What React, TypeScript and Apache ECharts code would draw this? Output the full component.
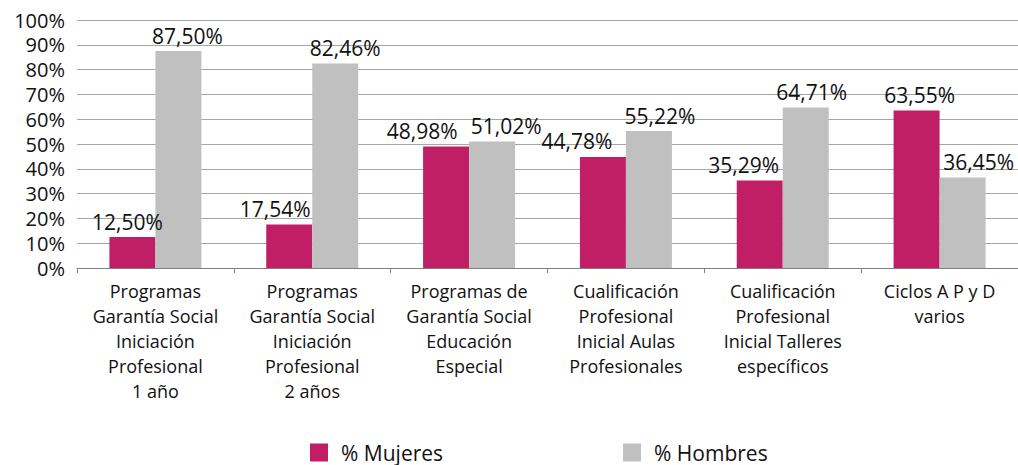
import React, { useEffect, useRef } from "react";
import * as echarts from "echarts";

const categories = [
  "Programas\nGarantía Social\nIniciación\nProfesional\n1 año",
  "Programas\nGarantía Social\nIniciación\nProfesional\n2 años",
  "Programas de\nGarantía Social\nEducación\nEspecial",
  "Cualificación\nProfesional\nInicial Aulas\nProfesionales",
  "Cualificación\nProfesional\nInicial Talleres\nespecíficos",
  "Ciclos A P y D\nvarios",
];
const mujeres = [12.5, 17.54, 48.98, 44.78, 35.29, 63.55];
const hombres = [87.5, 82.46, 51.02, 55.22, 64.71, 36.45];
const seriesNames = ["% Mujeres", "% Hombres"];

// horizontal shift of value labels, as placed in the reference
const mujeresLabelShift = [-5, -14, -24, -26, -16, 3];
const hombresLabelShift = [9, 10, 14, 11, 6, 16];

const FONT = "Open Sans";
const fmt = (v: number) => v.toFixed(2).replace(".", ",") + "%";

export default function App() {
  const ref = useRef<HTMLDivElement>(null);
  useEffect(() => {
    document.body.style.margin = "0";
    const chart = echarts.init(ref.current!, null, { renderer: "svg" });
    const labelStyle = {
      show: true,
      position: "top" as const,
      distance: 5,
      color: "#111",
      fontFamily: FONT,
      fontSize: 21,
      formatter: (p: any) => fmt(p.value),
    };
    const build = (vals: number[], shifts: number[]) =>
      vals.map((v, i) => ({ value: v, label: { offset: [shifts[i], 0] } }));
    chart.setOption({
      animation: false,
      backgroundColor: "#fff",
      textStyle: { fontFamily: FONT },
      grid: { left: 77, right: -1, top: 20, bottom: 197, containLabel: false },
      legend: {
        top: 437,
        left: 305,
        itemWidth: 18,
        itemHeight: 18,
        itemGap: 180,
        icon: "rect",
        textStyle: { fontFamily: FONT, fontSize: 21, color: "#111", padding: [0, 0, 0, 8] },
        data: seriesNames,
      },
      xAxis: {
        type: "category",
        data: categories,
        axisLine: { lineStyle: { color: "#808080" } },
        axisTick: { show: true, lineStyle: { color: "#808080" } },
        axisLabel: {
          interval: 0,
          fontFamily: FONT,
          fontSize: 18,
          color: "#111",
          lineHeight: 25,
          margin: 10,
        },
      },
      yAxis: {
        type: "value",
        min: 0,
        max: 100,
        interval: 10,
        axisLine: { show: false },
        axisTick: { show: false },
        splitLine: { lineStyle: { color: "#a6a6a6", width: 1 } },
        axisLabel: {
          formatter: (v: number) => v + "%",
          fontFamily: FONT,
          fontSize: 20,
          color: "#111",
          margin: 12,
        },
      },
      series: [
        {
          name: seriesNames[0],
          type: "bar",
          data: build(mujeres, mujeresLabelShift),
          barWidth: 46,
          barGap: "0%",
          itemStyle: { color: "#c01f66" },
          label: labelStyle,
        },
        {
          name: seriesNames[1],
          type: "bar",
          data: build(hombres, hombresLabelShift),
          barWidth: 46,
          barGap: "0%",
          itemStyle: { color: "#c0c0c0" },
          label: labelStyle,
        },
      ],
    });
    return () => chart.dispose();
  }, []);
  return <div ref={ref} style={{ width: 1018, height: 465 }} />;
}
